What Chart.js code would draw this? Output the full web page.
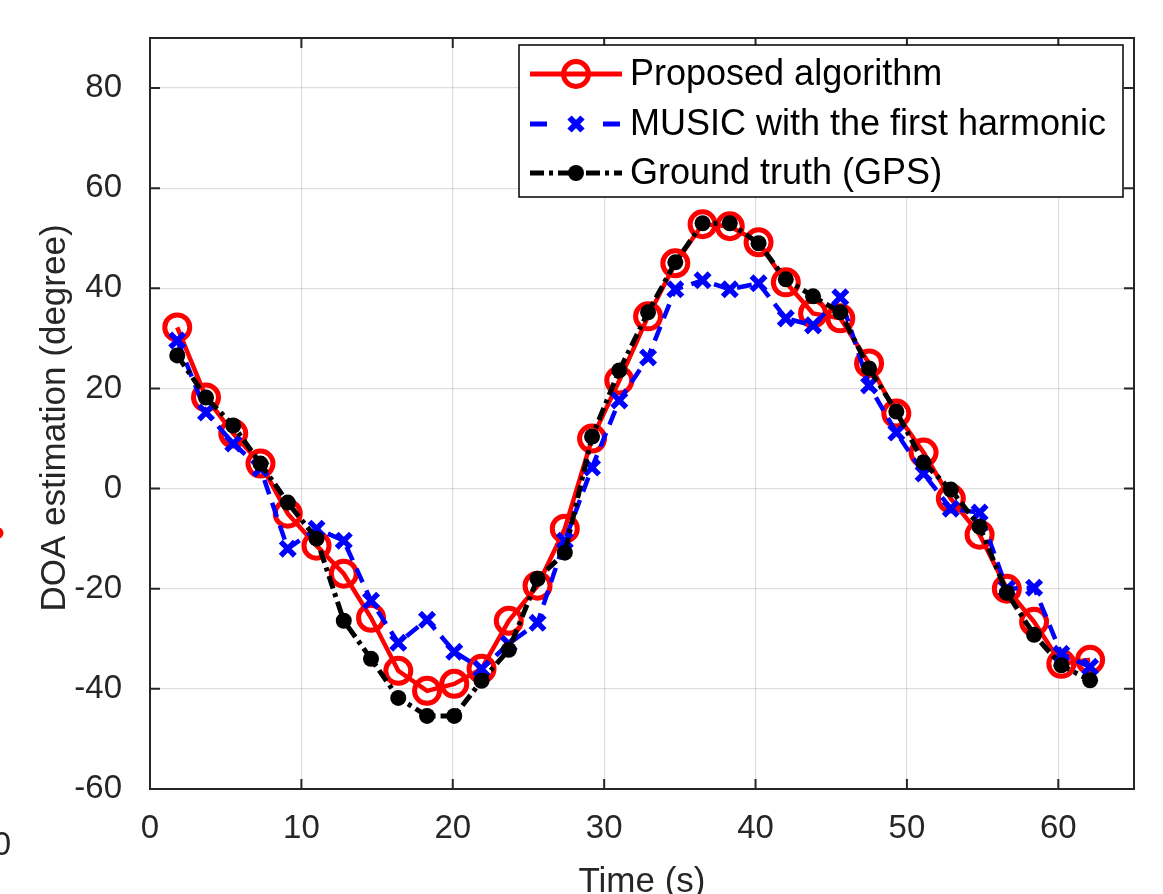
<!DOCTYPE html>
<html>
<head>
<meta charset="utf-8">
<script src="https://cdn.jsdelivr.net/npm/chart.js@4.4.1/dist/chart.umd.min.js"></script>
<style>
  html, body { margin: 0; padding: 0; background: #fff; }
  canvas { display: block; }
</style>
</head>
<body>
<canvas id="doaChart" width="1163" height="894"></canvas>
<script>
const timeSec = [1.8, 3.7, 5.5, 7.3, 9.1, 11.0, 12.8, 14.6, 16.4, 18.3, 20.1, 21.9, 23.7, 25.6, 27.4, 29.2, 31.0,
                 32.9, 34.7, 36.5, 38.3, 40.2, 42.0, 43.8, 45.6, 47.5, 49.3, 51.1, 52.9, 54.8, 56.6, 58.4, 60.2, 62.1];
const proposedDeg = [32.2, 18.2, 11, 5, -5, -11.4, -17, -25.8, -36.4, -40.4, -39, -36, -26.4, -19.4, -8, 10, 21.6,
                     34.4, 45, 52.8, 52.4, 49.2, 41.2, 35, 34, 25, 15, 7.2, -2, -9.2, -20, -26.6, -35, -34.2];
const musicDeg = [29.6, 15.2, 9, 4, -12, -8, -10.4, -22.4, -30.8, -26.2, -32.6, -36, -31, -26.8, -10.4, 4.2, 17.6,
                  26.2, 39.8, 41.6, 39.8, 41, 34, 32.6, 38.2, 20.6, 11.2, 3, -4, -4.8, -20, -19.8, -33, -35.6];
const gpsDeg = [26.6, 18.2, 12.6, 5, -2.8, -10, -26.4, -34, -41.8, -45.4, -45.4, -38.4, -32.2, -18, -12.8, 10.4, 23.6,
                35.2, 45.2, 53, 53, 49, 41.8, 38.4, 35.2, 24, 15.4, 5.2, -0.2, -7.6, -20.8, -29.2, -35.3, -38.3];
const xTicks = [0, 10, 20, 30, 40, 50, 60];
const yTicks = [-60, -40, -20, 0, 20, 40, 60, 80];
const seriesNames = ['Proposed algorithm', 'MUSIC with the first harmonic', 'Ground truth (GPS)'];

const FONT = "'Liberation Sans', Arial, Helvetica, sans-serif";
const AXIS_COLOR = '#262626';

function toPoints(ys) {
    return ys.map((y, i) => ({ x: timeSec[i], y: y }));
}

function drawMarker(ctx, kind, x, y, color) {
    ctx.save();
    ctx.setLineDash([]);
    ctx.strokeStyle = color;
    ctx.fillStyle = color;
    if (kind === 'circle') {
        ctx.lineWidth = 5;
        ctx.beginPath();
        ctx.arc(x, y, 12.5, 0, Math.PI * 2);
        ctx.stroke();
    } else if (kind === 'cross') {
        const r = 6.5;
        ctx.lineWidth = 6;
        ctx.beginPath();
        ctx.moveTo(x - r, y - r); ctx.lineTo(x + r, y + r);
        ctx.moveTo(x + r, y - r); ctx.lineTo(x - r, y + r);
        ctx.stroke();
    } else {
        ctx.beginPath();
        ctx.arc(x, y, 8, 0, Math.PI * 2);
        ctx.fill();
    }
    ctx.restore();
}

const matlabFrame = {
    id: 'matlabFrame',
    afterDraw(chart) {
        const ctx = chart.ctx;
        const a = chart.chartArea;
        const xs = chart.scales.x;
        const ys = chart.scales.y;
        ctx.save();

        // axes box and inward ticks
        ctx.strokeStyle = AXIS_COLOR;
        ctx.lineWidth = 2;
        ctx.strokeRect(a.left, a.top, a.right - a.left, a.bottom - a.top);
        ctx.beginPath();
        xTicks.forEach(v => {
            const px = xs.getPixelForValue(v);
            ctx.moveTo(px, a.bottom); ctx.lineTo(px, a.bottom - 10);
            ctx.moveTo(px, a.top); ctx.lineTo(px, a.top + 10);
        });
        yTicks.forEach(v => {
            const py = ys.getPixelForValue(v);
            ctx.moveTo(a.left, py); ctx.lineTo(a.left + 10, py);
            ctx.moveTo(a.right, py); ctx.lineTo(a.right - 10, py);
        });
        ctx.stroke();

        // axis titles
        ctx.fillStyle = AXIS_COLOR;
        ctx.font = '35px ' + FONT;
        ctx.textAlign = 'center';
        ctx.textBaseline = 'alphabetic';
        ctx.fillText('Time (s)', (a.left + a.right) / 2, 892);
        ctx.save();
        ctx.translate(65, 418);
        ctx.rotate(-Math.PI / 2);
        ctx.fillText('DOA estimation (degree)', 0, 0);
        ctx.restore();

        // bits of the neighbouring panel at the left edge
        ctx.font = '33px ' + FONT;
        ctx.textAlign = 'right';
        ctx.textBaseline = 'middle';
        ctx.fillText('0', 11, 846);
        ctx.fillStyle = '#ff0000';
        ctx.beginPath();
        ctx.arc(-2, 533, 5.5, 0, Math.PI * 2);
        ctx.fill();

        // legend
        const box = { x: 519, y: 45, w: 604, h: 152 };
        ctx.fillStyle = '#fff';
        ctx.fillRect(box.x, box.y, box.w, box.h);
        ctx.strokeStyle = '#000';
        ctx.lineWidth = 1.5;
        ctx.strokeRect(box.x, box.y, box.w, box.h);

        const rows = [
            { color: '#ff0000', dash: [], width: 5, marker: 'circle', y: 74 },
            { color: '#0000ff', dash: [17, 56], width: 5, marker: 'cross', y: 124 },
            { color: '#000000', dash: [14, 5, 4, 5], width: 5, marker: 'dot', y: 173 }
        ];
        rows.forEach((r, i) => {
            ctx.save();
            ctx.strokeStyle = r.color;
            ctx.lineWidth = r.width;
            ctx.setLineDash(r.dash);
            ctx.beginPath();
            ctx.moveTo(530, r.y);
            ctx.lineTo(622, r.y);
            ctx.stroke();
            ctx.restore();
            drawMarker(ctx, r.marker, 576, r.y, r.color);
            ctx.fillStyle = '#000';
            ctx.font = '36px ' + FONT;
            ctx.textAlign = 'left';
            ctx.textBaseline = 'middle';
            ctx.fillText(seriesNames[i], 630, r.y + 1);
        });

        ctx.restore();
    }
};

new Chart(document.getElementById('doaChart'), {
    type: 'line',
    data: {
        datasets: [
            {
                label: seriesNames[0],
                data: toPoints(proposedDeg),
                borderColor: '#ff0000',
                borderWidth: 4.5,
                pointStyle: 'circle',
                pointRadius: 12.5,
                pointBorderWidth: 5,
                pointBorderColor: '#ff0000',
                pointBackgroundColor: 'rgba(0,0,0,0)',
                order: 3
            },
            {
                label: seriesNames[1],
                data: toPoints(musicDeg),
                borderColor: '#0000ff',
                borderWidth: 4.5,
                borderDash: [15, 9],
                pointStyle: 'crossRot',
                pointRadius: 10,
                pointBorderWidth: 5.5,
                pointBorderColor: '#0000ff',
                pointBackgroundColor: '#0000ff',
                order: 2
            },
            {
                label: seriesNames[2],
                data: toPoints(gpsDeg),
                borderColor: '#000000',
                borderWidth: 5,
                borderDash: [13, 5, 4, 5],
                pointStyle: 'circle',
                pointRadius: 8,
                pointBorderWidth: 0,
                pointBackgroundColor: '#000000',
                order: 1
            }
        ]
    },
    options: {
        responsive: false,
        animation: false,
        events: [],
        layout: { padding: { top: 38, right: 29, left: 0, bottom: 0 } },
        elements: { line: { tension: 0, fill: false } },
        plugins: {
            legend: { display: false },
            tooltip: { enabled: false }
        },
        scales: {
            x: {
                type: 'linear',
                min: 0,
                max: 65,
                afterBuildTicks: s => { s.ticks = xTicks.map(v => ({ value: v })); },
                afterFit: s => { s.height = 105; s.paddingLeft = 0; s.paddingRight = 0; },
                grid: { color: 'rgba(0,0,0,0.13)', lineWidth: 1.2, drawTicks: false },
                border: { display: false },
                ticks: { color: AXIS_COLOR, font: { family: FONT, size: 33 }, padding: 20, maxRotation: 0 }
            },
            y: {
                min: -60,
                max: 90,
                afterBuildTicks: s => { s.ticks = yTicks.map(v => ({ value: v })); },
                afterFit: s => { s.width = 150; s.paddingTop = 0; s.paddingBottom = 0; },
                grid: { color: 'rgba(0,0,0,0.13)', lineWidth: 1.2, drawTicks: false },
                border: { display: false },
                ticks: { color: AXIS_COLOR, font: { family: FONT, size: 33 }, padding: 28 }
            }
        }
    },
    plugins: [matlabFrame]
});
</script>
</body>
</html>
